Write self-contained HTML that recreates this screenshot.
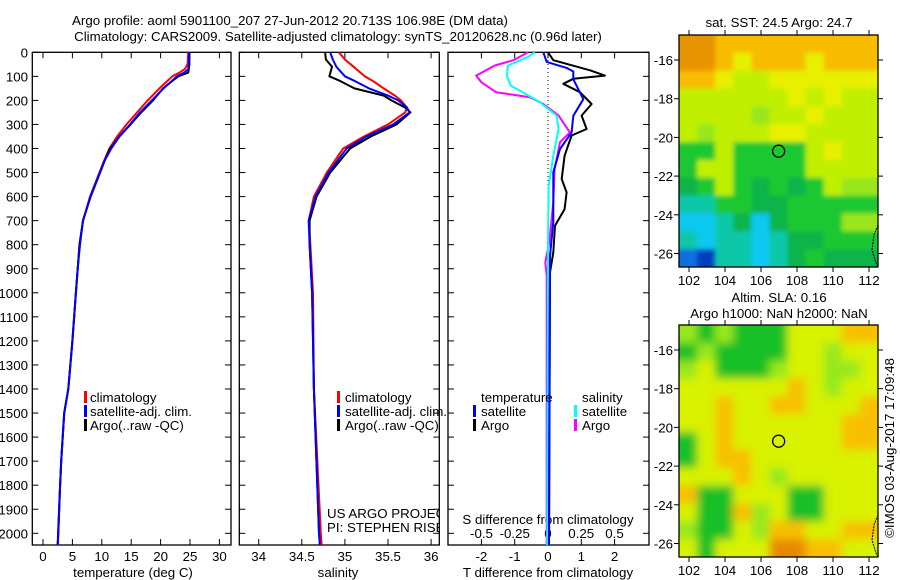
<!DOCTYPE html>
<html><head><meta charset="utf-8">
<style>
html,body{margin:0;padding:0;background:#fff;}
svg{display:block;font-family:"Liberation Sans",sans-serif;}
text{font-size:13.3px;fill:#000;}
</style></head>
<body>
<svg id="chart" width="900" height="580" viewBox="0 0 900 580" xmlns="http://www.w3.org/2000/svg">
<defs>
<filter id="blur1" x="-5%" y="-5%" width="110%" height="110%"><feGaussianBlur stdDeviation="2.5"/></filter>
<filter id="blur2" x="-5%" y="-5%" width="110%" height="110%"><feGaussianBlur stdDeviation="4.5"/></filter>
<clipPath id="clipM1"><rect x="679" y="35" width="199" height="232"/></clipPath>
<clipPath id="clipM2"><rect x="679" y="325" width="199" height="232"/></clipPath>
<clipPath id="clipP2"><rect x="239" y="52" width="200" height="493"/></clipPath>
</defs>
<text x="290" y="25" text-anchor="middle">Argo profile: aoml 5901100_207 27-Jun-2012 20.713S 106.98E (DM data)</text>
<text x="338" y="41" text-anchor="middle">Climatology: CARS2009. Satellite-adjusted climatology: synTS_20120628.nc (0.96d later)</text>
<g id="g"></g>
</svg>
<script>
// ---- Data ----
const tDepth = [0,50,70,85,100,150,200,250,300,350,400,450,500,600,700,800,900,1000,1200,1400,1500,1700,1800,2000,2049];
const tClim  = [24.7,24.6,24.1,23.2,22.0,19.8,17.8,16.0,14.2,12.6,11.3,10.4,9.6,8.0,6.8,6.2,5.9,5.6,5.0,4.3,3.6,3.1,2.9,2.55,2.5];
const tSat   = [24.9,24.8,24.7,24.0,22.8,20.5,18.5,16.5,14.8,13.0,11.6,10.5,9.7,8.1,6.8,6.3,5.9,5.6,5.0,4.3,3.6,3.1,2.9,2.6,2.5];
const tArgo  = [24.9,24.9,24.8,24.7,23.0,20.4,18.7,16.7,14.9,13.0,11.4,10.5,9.7,8.1,6.8,6.2,5.9,5.6,5.0,4.3,3.6,3.1,2.9,2.6,2.5];

const sDepth = [0,30,60,100,120,150,180,200,230,250,300,350,400,500,600,700,800,1000,1400,2000,2049];
const sClim  = [34.93,35.0,35.1,35.23,35.33,35.45,35.58,35.65,35.72,35.70,35.50,35.22,34.98,34.79,34.64,34.58,34.6,34.63,34.64,34.72,34.73];
const sSat   = [34.83,34.86,34.9,35.0,35.12,35.28,35.5,35.62,35.72,35.75,35.56,35.25,35.02,34.81,34.66,34.58,34.59,34.62,34.64,34.70,34.71];
const sArgo  = [34.77,34.78,34.85,34.82,34.95,35.11,35.45,35.54,35.70,35.76,35.60,35.30,35.06,34.83,34.67,34.59,34.59,34.62,34.64,34.70,34.71];

const dtSatDepth = [0,40,65,80,112,195,264,333,402,499,707,846,2049];
const dtSat      = [-0.14,-0.04,0.56,0.76,0.76,1.06,0.76,0.71,0.36,0.16,0.16,0.06,0.03];
const dtArgoDepth= [0,33,75,97,110,131,166,215,263,319,346,430,527,582,652,721,832,915,2049];
const dtArgo     = [0,0.16,1.26,1.71,0.76,0.46,0.96,1.31,1.01,1.16,0.71,0.5,0.41,0.56,0.5,0.21,0.16,0.06,0.03];
const dsArgoDepth= [0,33,55,97,125,166,187,215,263,333,374,485,624,790,873,928,2049];
const dsArgo     = [-0.15,-0.26,-0.40,-0.54,-0.50,-0.39,-0.135,-0.035,0.08,0.165,0.09,0.05,0.04,0.01,-0.02,-0.01,-0.01];
const dsSatDepth = [0,19,55,97,139,166,208,263,319,430,555,790,2049];
const dsSat      = [-0.10,-0.15,-0.30,-0.31,-0.28,-0.19,-0.06,0.065,0.08,0.04,0.005,0,-0.005];

const depthTicks = [0,100,200,300,400,500,600,700,800,900,1000,1100,1200,1300,1400,1500,1600,1700,1800,1900,2000];
const tTicks = [0,5,10,15,20,25,30];
const sTicks = [34,34.5,35,35.5,36];
const dtTicks = [-2,-1,0,1,2];
const dsTicks = [-0.5,-0.25,0,0.25,0.5];
const lonTicks = [102,104,106,108,110,112];
const latTicks = [-16,-18,-20,-22,-24,-26];

// maps: palette codes
const sstGrid = [
"OOooooooooo","OOoYoooYooo","ooYyyYYYYYY","yyyyyyYyYyy","yyyyLyyYyyy","yLyyyYYyyyy",
"GGyGGGGyYyy","GyyGGGGyyyy","gGyGgGgGyLL","TTGGggGGGGG","CCTgCgGGGLL","TCTTCTggGGG","BDTTCTgGggg"];
const slaGrid = [
"LGLGGGyyyoo","GLGGGGyyLyy","LyGGGLyyLLy","yyyyyyoyLyy","yyoyyooyyyo","yyoyyyyyyoo",
"Gyoyyyyyyoo","Gyooyyyyyyy","yyyoyLyyyyy","oGGyyyGGyyy","yGGoLyGGyyy","LGGyLooyyoo","yGyyyOOooyy"];
const palette = {O:"#e89400",o:"#f8bc00",Y:"#e8f000",y:"#c0f000",L:"#9ae61a",G:"#1cc830",g:"#0cb448",T:"#10c8a8",C:"#10c8f0",B:"#1070e0",D:"#0040c0"};
const pal2 = {O:"#e88800",o:"#f8c000",Y:"#e8f000",y:"#d8f200",L:"#98e81a",G:"#18c028"};

// ---- helpers ----
const NS="http://www.w3.org/2000/svg";
const G=document.getElementById('g');
function el(tag,attrs,parent){const e=document.createElementNS(NS,tag);for(const k in attrs)e.setAttribute(k,attrs[k]);(parent||G).appendChild(e);return e;}
const yD = d => 52.3 + d*0.2405;
const xT = v => 43 + v*5.88;
const xS = v => 258.7 + (v-34)*86.2;
const xDT = v => 548 + v*33.3;
const xDS = v => 548 + v*133;

function line(xs,ds,fx,color,w,name,clip){
  const pts = xs.map((v,i)=>fx(v).toFixed(1)+','+yD(ds[i]).toFixed(1)).join(' ');
  const p = el('polyline',{points:pts,fill:'none',stroke:color,'stroke-width':w,'stroke-linejoin':'round'});
  
  
  if(clip) p.setAttribute('clip-path',clip);
  return p;
}
function txt(s,x,y,anchor,name,parent){
  const t=el('text',{x:x,y:y,'text-anchor':anchor||'start'},parent);t.textContent=s;
  
  
  return t;
}
function box(x0,x1,y0,y1,name){
  const r=el('rect',{x:x0,y:y0,width:x1-x0,height:y1-y0,fill:'none',stroke:'#000','stroke-width':1.3});
  
  
}
function depthTickMarks(x0,x1){
  depthTicks.forEach(d=>{
    el('line',{x1:x0,x2:x0+6,y1:yD(d),y2:yD(d),stroke:'#000'});
    el('line',{x1:x1-6,x2:x1,y1:yD(d),y2:yD(d),stroke:'#000'});
  });
}
function xTickMarks(vals,fx,y0,y1){
  vals.forEach(v=>{
    el('line',{x1:fx(v),x2:fx(v),y1:y1,y2:y1-6,stroke:'#000'});
    el('line',{x1:fx(v),x2:fx(v),y1:y0,y2:y0+6,stroke:'#000'});
  });
}
function legendBar(x,y,color,name){
  const r=el('rect',{x:x,y:y-11,width:3,height:12,fill:color});
  
  
}

// ---- Panel 1: temperature ----
box(32.3,231,52.3,545,'temperature-panel');
depthTickMarks(32.3,231);
depthTicks.forEach(d=>txt(String(d),28,yD(d)+5,'end','depth-tick-label'));
xTickMarks(tTicks,xT,52.3,545);
tTicks.forEach(v=>txt(String(v),xT(v),561,'middle','temperature-tick-label'));
txt('temperature (deg C)',133,577,'middle','temperature-axis-title');
line(tClim,tDepth,xT,'#ff0000',2,'temperature-climatology-line');
line(tArgo,tDepth,xT,'#000000',2,'temperature-argo-line');
line(tSat,tDepth,xT,'#0000ff',2,'temperature-satellite-line');
legendBar(84,402,'#ff0000','legend-climatology-swatch'); txt('climatology',90,402,'start','legend-climatology');
legendBar(84,416,'#0000ff','legend-satellite-swatch'); txt('satellite-adj. clim.',90,416,'start','legend-satellite');
legendBar(84,430,'#000000','legend-argo-swatch'); txt('Argo(..raw -QC)',90,430,'start','legend-argo');

// ---- Panel 2: salinity ----
box(239.3,439.3,52.3,545,'salinity-panel');
depthTickMarks(239.3,439.3);
xTickMarks(sTicks,xS,52.3,545);
sTicks.forEach(v=>txt(String(v),xS(v),561,'middle','salinity-tick-label'));
txt('salinity',338,577,'middle','salinity-axis-title');
line(sClim,sDepth,xS,'#ff0000',2,'salinity-climatology-line','url(#clipP2)');
line(sArgo,sDepth,xS,'#000000',2,'salinity-argo-line','url(#clipP2)');
line(sSat,sDepth,xS,'#0000ff',2,'salinity-satellite-line','url(#clipP2)');
legendBar(337,402,'#ff0000','legend2-climatology-swatch'); txt('climatology',345,402,'start','legend2-climatology');
legendBar(337,416,'#0000ff','legend2-satellite-swatch'); txt('satellite-adj. clim.',345,416,'start','legend2-satellite');
legendBar(337,430,'#000000','legend2-argo-swatch'); txt('Argo(..raw -QC)',345,430,'start','legend2-argo');
const credit=el('g',{'clip-path':'url(#clipP2)'});


txt('US ARGO PROJECT',327,518,'start','credit-project',credit);
txt('PI: STEPHEN RISER',327,532,'start','credit-pi',credit);

// ---- Panel 3: differences ----
box(448,649,52.3,545,'difference-panel');
depthTickMarks(448,649);
xTickMarks(dtTicks,xDT,52.3,545);
el('line',{x1:548,x2:548,y1:52,y2:545,stroke:'#000','stroke-dasharray':'1,3'});
dtTicks.forEach(v=>txt(String(v),xDT(v),561,'middle','t-diff-tick-label'));
dsTicks.forEach(v=>txt(String(v),xDS(v),538,'middle','s-diff-tick-label'));
txt('S difference from climatology',548,524,'middle','s-diff-axis-title');
txt('T difference from climatology',548,577,'middle','t-diff-axis-title');
line(dsArgo,dsArgoDepth,xDS,'#ff00ff',2,'s-diff-argo-line');
line(dsSat,dsSatDepth,xDS,'#00ffff',2,'s-diff-satellite-line');
line(dtArgo,dtArgoDepth,xDT,'#000000',2,'t-diff-argo-line');
line(dtSat,dtSatDepth,xDT,'#0000ff',2,'t-diff-satellite-line');
txt('temperature',481,402,'start','legend3-temperature-heading');
legendBar(473,416,'#0000ff','legend3-t-satellite-swatch'); txt('satellite',481,416,'start','legend3-t-satellite');
legendBar(473,430,'#000000','legend3-t-argo-swatch'); txt('Argo',481,430,'start','legend3-t-argo');
txt('salinity',582,402,'start','legend3-salinity-heading');
legendBar(574,416,'#00ffff','legend3-s-satellite-swatch'); txt('satellite',582,416,'start','legend3-s-satellite');
legendBar(574,430,'#ff00ff','legend3-s-argo-swatch'); txt('Argo',582,430,'start','legend3-s-argo');

// ---- Maps ----
function drawMap(y0,grid,pal,filter,clip,name){
  const x0=679,w=199,h=232;
  const g=el('g',{'clip-path':clip});
  
  
  const inner=el('g',{filter:filter},g);
  const rows=grid.length, cols=grid[0].length;
  const cw=w/cols, ch=h/rows;
  el('rect',{x:x0-20,y:y0-20,width:w+40,height:h+40,fill:pal[grid[6][5]]},inner);
  for(let r=-1;r<=rows;r++)for(let c=-1;c<=cols;c++){
    const rr=Math.min(rows-1,Math.max(0,r)), cc=Math.min(cols-1,Math.max(0,c));
    el('rect',{x:x0+c*cw,y:y0+r*ch,width:cw+0.5,height:ch+0.5,fill:pal[grid[rr][cc]]},inner);
  }
  const lx = v => 689 + (v-102)*18;
  const ly = v => y0 + 25 + (-16 - v)*19.35;
  el('path',{d:`M878 ${y0+190} L874 ${y0+200} L872 ${y0+215} L876 ${y0+228} L878 ${y0+232}`,fill:'none',stroke:'#000','stroke-dasharray':'2,1'},g);
  const c=el('circle',{cx:lx(106.98),cy:ly(-20.713),r:6,fill:'none',stroke:'#000','stroke-width':1.3});
  
  
  box(x0,x0+w,y0,y0+h,name+'-frame');
  lonTicks.forEach(v=>{
    el('line',{x1:lx(v),x2:lx(v),y1:y0,y2:y0-5,stroke:'#000'});
    el('line',{x1:lx(v),x2:lx(v),y1:y0+h,y2:y0+h+5,stroke:'#000'});
    txt(String(v),lx(v),y0+h+18,'middle','longitude-tick-label');
  });
  latTicks.forEach(v=>{
    el('line',{x1:x0,x2:x0-5,y1:ly(v),y2:ly(v),stroke:'#000'});
    el('line',{x1:x0+w,x2:x0+w+5,y1:ly(v),y2:ly(v),stroke:'#000'});
    txt(String(v),673,ly(v)+5,'end','latitude-tick-label');
  });
}
drawMap(35,sstGrid,palette,'url(#blur1)','url(#clipM1)','sst-map');
drawMap(325,slaGrid,pal2,'url(#blur2)','url(#clipM2)','sla-map');
txt('sat. SST: 24.5 Argo: 24.7',779,27,'middle','sst-map-title');
txt('Altim. SLA: 0.16',779,302,'middle','sla-map-title');
txt('Argo h1000: NaN h2000: NaN',779,318,'middle','sla-map-subtitle');
const v=txt('©IMOS 03-Aug-2017 17:09:48',0,0,'middle','timestamp-credit');
v.setAttribute('transform','translate(894,448) rotate(-90)');
</script>
</body></html>
